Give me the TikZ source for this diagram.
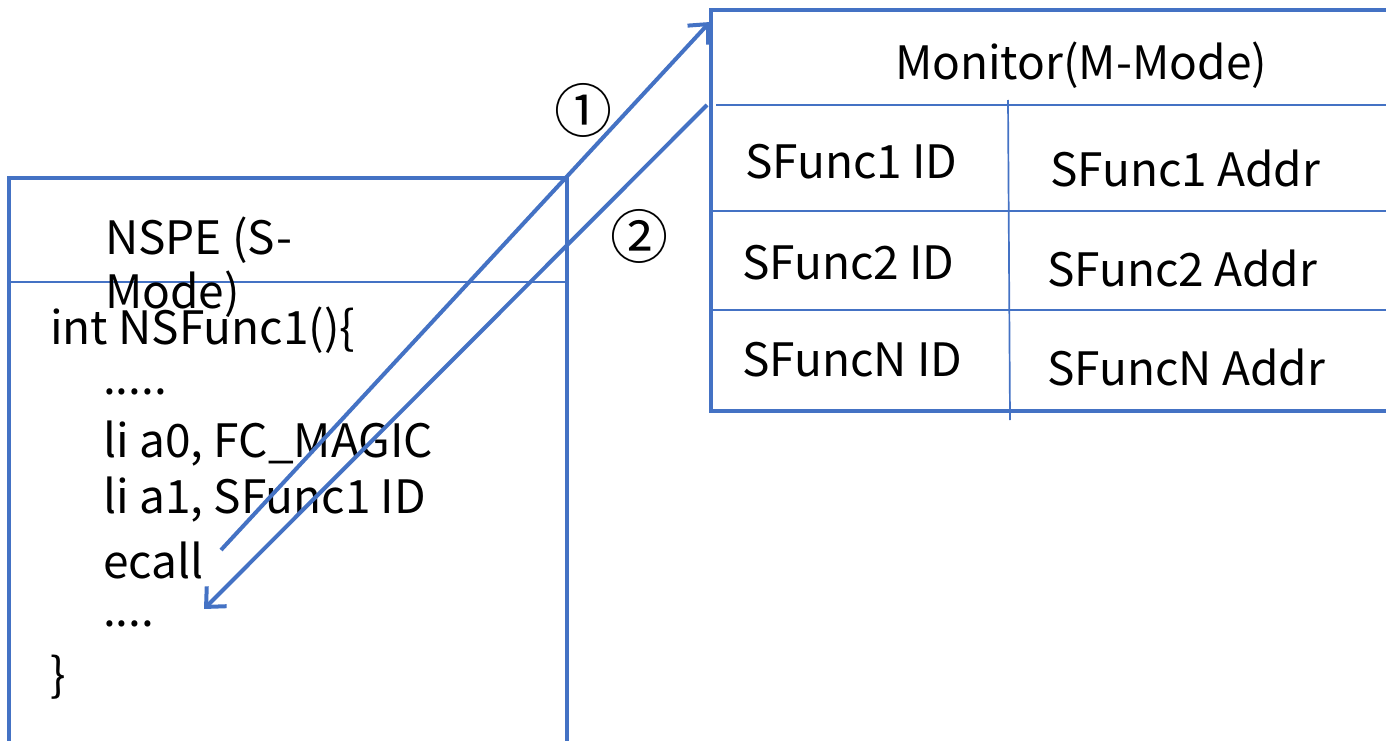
\documentclass[tikz,border=0pt]{standalone}
\usepackage{fontspec}
\setmainfont{Noto Sans CJK SC}
\usetikzlibrary{arrows.meta}
\definecolor{lineblue}{HTML}{4472C4}
\begin{document}
\begin{tikzpicture}[x=1pt,y=-1pt,
  frame/.style={draw=lineblue,line width=3.2pt},
  grid/.style={draw=lineblue,line width=1.7pt},
  flow/.style={draw=lineblue,line width=4pt,-{Straight Barb[length=15pt,width=28pt,line width=4pt]}},
  txt/.style={anchor=west,inner sep=0pt,font=\fontsize{46}{54}\selectfont},
  num/.style={inner sep=0pt,font=\fontsize{58}{60}\selectfont}]
\useasboundingbox (0,0) rectangle (1386,741);
% NSPE box (open at the bottom)
\draw[frame] (9,741) -- (9,178) -- (567,178) -- (567,741);
\draw[grid] (11,282) -- (568,282);
% Monitor table (continues past the right edge)
\draw[frame] (1386,10) -- (711,10) -- (711,411) -- (1386,411);
\draw[grid] (716,105) -- (1386,105);
\draw[grid] (711,211) -- (1386,211);
\draw[grid] (711,310) -- (1386,310);
\draw[grid] (1008,100) -- (1010,420);
% titles
\node[txt] (nspe1) at (105,240) {NSPE (S-};
\node[txt] (nspe2) at (105,294) {Mode)};
\node[inner sep=0pt,font=\fontsize{46}{54}\selectfont] (mon) at (1081,65) {Monitor(M-Mode)};
% table cells
\node[txt] (id1) at (745,162) {SFunc1 ID};
\node[txt] (ad1) at (1050,168) {SFunc1 Addr};
\node[txt] (id2) at (742,263) {SFunc2 ID};
\node[txt] (ad2) at (1047,268) {SFunc2 Addr};
\node[txt] (idn) at (742,360) {SFuncN ID};
\node[txt] (adn) at (1047,367) {SFuncN Addr};
% code listing
\node[txt] (c1) at (50,330) {int NSFunc1()\{};
\node[txt] (c2) at (103,392) {.....};
\node[txt] (c3) at (103,444) {li a0, FC\_MAGIC};
\node[txt] (c4) at (103,500) {li a1, SFunc1 ID};
\node[txt] (c5) at (103,560) {ecall};
\node[txt] (c6) at (103,624) {....};
\node[txt] (c7) at (50,677) {\}};
% call and return
\coordinate (callsrc) at (221,550);
\coordinate (calldst) at (710,22);
\coordinate (retsrc) at (707,105);
\coordinate (retdst) at (204,609);
\draw[flow] (callsrc) -- (calldst);
\draw[flow] (retsrc) -- (retdst);
\node[num] (n1) at (583,110) {①};
\node[num] (n2) at (639,236) {②};
\end{tikzpicture}
\end{document}
